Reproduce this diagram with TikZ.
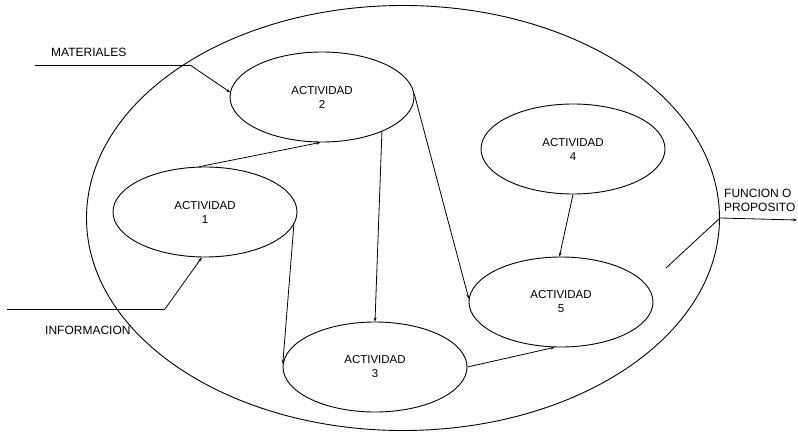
\documentclass[tikz,border=0pt]{standalone}
\usepackage{fontspec}
\setmainfont{Liberation Sans}
\usetikzlibrary{shapes.geometric,arrows.meta}

\begin{document}
\begin{tikzpicture}[
  x=1pt, y=-1pt,
  act/.style={draw, ellipse, line width=0.9pt, minimum width=184pt, minimum height=90pt,
              inner sep=0pt, align=center, font=\fontsize{11.5}{14}\selectfont},
  sys/.style={draw, ellipse, line width=0.9pt, minimum width=633pt, minimum height=425pt, inner sep=0pt},
  lbl/.style={anchor=west, inner sep=0pt, align=left, font=\fontsize{12}{14}\selectfont},
  lin/.style={line width=0.8pt},
  arr/.style={lin, -{Stealth[length=4pt, width=3pt]}}
]
\useasboundingbox (0,0) rectangle (798,433);

\node[sys] (sis) at (403,218) {};

\node[act] (a1) at (205,212) {ACTIVIDAD\\1};
\node[act] (a2) at (322,97)  {ACTIVIDAD\\2};
\node[act] (a3) at (375,367) {ACTIVIDAD\\3};
\node[act] (a4) at (573,149) {ACTIVIDAD\\4};
\node[act] (a5) at (561,302) {ACTIVIDAD\\5};

\node[lbl] (mat) at (51,52)  {MATERIALES};
\node[lbl] (inf) at (45,330) {INFORMACION};
\node[lbl] (fun) at (724,200) {FUNCION O\\PROPOSITO};

% entradas
\coordinate (m0) at (35,65);
\coordinate (m1) at (190,65);
\coordinate (i0) at (7,309);
\coordinate (i1) at (165,309);
\draw[lin] (m0) -- (m1);
\draw[arr] (m1) -- (a2.177);
\draw[lin] (i0) -- (i1);
\draw[arr] (i1) -- (a1.266);

% flujo entre actividades
\draw[arr] (a1.97)  -- (a2.268);
\draw[arr] (a2.330) -- (a3.90);
\draw[arr] (a1.352) -- (a3.178);
\draw[arr] (a2.2)   -- (a5.178);
\draw[arr] (a4.270) -- (a5.92);
\draw[arr] (a3.0)   -- (a5.262);

% salida
\coordinate (o0) at (666,268);
\coordinate (o2) at (797,220);
\draw[lin] (o0) -- (sis.0);
\draw[arr] (sis.0) -- (o2);
\end{tikzpicture}
\end{document}
